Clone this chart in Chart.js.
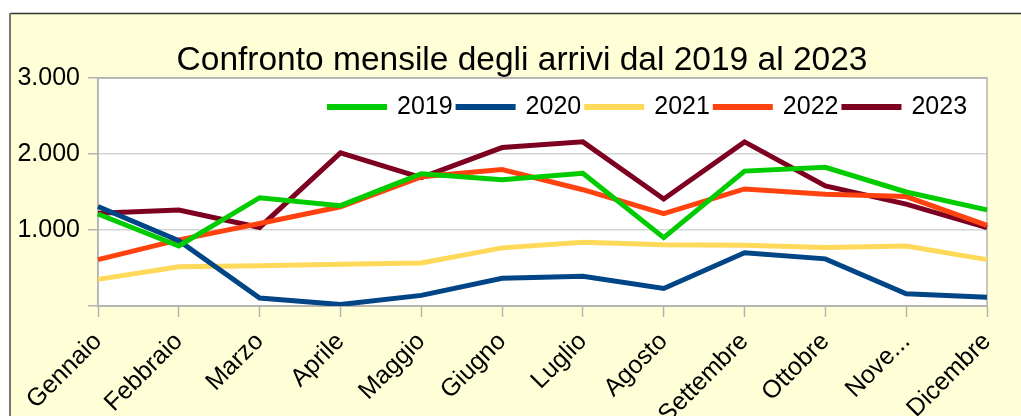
<!DOCTYPE html>
<html>
<head>
<meta charset="utf-8">
<script src="https://cdn.jsdelivr.net/npm/chart.js@4/dist/chart.umd.min.js"></script>
<style>
    body { margin: 0; background: #ffffff; }
    #wrap { position: relative; width: 1021px; height: 416px; }
</style>
</head>
<body>
<div id="wrap"><canvas id="arriviChart" width="1021" height="416"></canvas></div>
<script>
// Data
const months = ['Gennaio', 'Febbraio', 'Marzo', 'Aprile', 'Maggio', 'Giugno', 'Luglio', 'Agosto', 'Settembre', 'Ottobre', 'Nove...', 'Dicembre'];
const years = ['2019', '2020', '2021', '2022', '2023'];
const arrivi2019 = [1210, 790, 1425, 1320, 1740, 1660, 1745, 900, 1775, 1825, 1500, 1265];
const arrivi2020 = [1310, 860, 105, 20, 140, 365, 390, 230, 700, 620, 160, 115];
const arrivi2021 = [350, 515, 530, 550, 565, 765, 840, 805, 800, 770, 790, 610];
const arrivi2022 = [610, 870, 1085, 1305, 1700, 1795, 1530, 1215, 1540, 1470, 1440, 1060];
const arrivi2023 = [1220, 1262, 1034, 2015, 1690, 2085, 2160, 1408, 2160, 1580, 1340, 1030];
const seriesColors = ['#00cc00', '#004586', '#ffd95a', '#ff420e', '#7e0021'];
const yTicks = [0, 1000, 2000, 3000];

Chart.defaults.font.family = "'Liberation Sans', Arial, sans-serif";
Chart.defaults.color = '#000000';

function formatThousands(v) {
    return String(v).replace(/\B(?=(\d{3})+(?!\d))/g, '.');
}

// Yellow page with frame, white plot area
const chartBackground = {
    id: 'chartBackground',
    beforeDraw(chart) {
        const ctx = chart.ctx;
        const area = chart.chartArea;
        ctx.save();
        ctx.fillStyle = '#ffffff';
        ctx.fillRect(0, 0, chart.width, chart.height);
        ctx.fillStyle = '#ffffd7';
        ctx.fillRect(10, 13, chart.width - 10, chart.height - 13);
        ctx.strokeStyle = '#333333';
        ctx.lineWidth = 1.5;
        ctx.beginPath();
        ctx.moveTo(10, 13.5);
        ctx.lineTo(chart.width, 13.5);
        ctx.stroke();
        ctx.strokeStyle = '#777777';
        ctx.lineWidth = 2;
        ctx.beginPath();
        ctx.moveTo(10, 13);
        ctx.lineTo(10, chart.height);
        ctx.stroke();
        ctx.fillStyle = '#ffffff';
        ctx.fillRect(area.left, area.top, area.right - area.left, area.bottom - area.top);
        ctx.restore();
    },
    beforeDatasetsDraw(chart) {
        const ctx = chart.ctx;
        const area = chart.chartArea;
        ctx.save();
        ctx.strokeStyle = '#b3b3b3';
        ctx.lineWidth = 1.5;
        ctx.strokeRect(area.left, area.top, area.right - area.left, area.bottom - area.top);
        ctx.restore();
    }
};

// Legend inside the plot area (top right), title centred on the whole frame
const boxPlacement = {
    id: 'boxPlacement',
    afterLayout(chart) {
        const lg = chart.legend;
        lg.left = 324;
        lg.right = 1000;
        lg.top = 89;
        lg.bottom = 126;
        lg.width = lg.right - lg.left;
        lg.height = lg.bottom - lg.top;

        const tt = chart.titleBlock;
        if (tt) {
            tt.left = 23;
            tt.right = 1021;
            tt.width = tt.right - tt.left;
        }
    }
};

const allSeries = [arrivi2019, arrivi2020, arrivi2021, arrivi2022, arrivi2023];
const datasets = years.map((year, i) => ({
    label: year,
    data: allSeries[i],
    borderColor: seriesColors[i],
    backgroundColor: seriesColors[i],
    borderWidth: 5,
    pointRadius: 0,
    pointHoverRadius: 0,
    tension: 0,
    fill: false
}));

new Chart(document.getElementById('arriviChart').getContext('2d'), {
    type: 'line',
    data: {
        labels: months,
        datasets: datasets
    },
    options: {
        responsive: false,
        animation: false,
        layout: {
            padding: { left: 0, right: 34, top: 0, bottom: 0 }
        },
        plugins: {
            title: {
                display: true,
                text: 'Confronto mensile degli arrivi dal 2019 al 2023',
                color: '#000000',
                font: { size: 33.5, weight: 'normal', lineHeight: 1 },
                padding: { top: 44.5, bottom: 0 }
            },
            legend: {
                position: 'top',
                align: 'start',
                maxHeight: 0.001,
                labels: {
                    boxWidth: 55,
                    boxHeight: 1,
                    padding: 5.5,
                    color: '#000000',
                    font: { size: 25 }
                }
            },
            tooltip: { enabled: false }
        },
        scales: {
            x: {
                offset: false,
                afterFit: function(scale) { scale.height = 110; },
                grid: {
                    drawOnChartArea: false,
                    drawTicks: true,
                    tickLength: 11,
                    tickColor: '#b3b3b3',
                    tickWidth: 1.5
                },
                border: { color: '#b3b3b3', width: 1.5 },
                ticks: {
                    autoSkip: false,
                    minRotation: 45,
                    maxRotation: 45,
                    padding: 10,
                    color: '#000000',
                    font: { size: 25 }
                }
            },
            y: {
                min: yTicks[0],
                max: yTicks[yTicks.length - 1],
                afterFit: function(scale) { scale.width = 98; },
                afterBuildTicks: function(scale) {
                    scale.ticks = yTicks.map(v => ({ value: v }));
                },
                grid: {
                    color: function(ctx) {
                        const v = ctx.tick ? ctx.tick.value : 0;
                        return (v === 0 || v === 3000) ? '#b3b3b3' : '#d4d4d4';
                    },
                    lineWidth: 1.5,
                    tickLength: 10,
                    tickColor: '#b3b3b3',
                    tickWidth: 1.5
                },
                border: { color: '#b3b3b3', width: 1.5 },
                ticks: {
                    padding: 8,
                    color: '#000000',
                    font: { size: 25 },
                    callback: function(value) {
                        return value === 0 ? '' : formatThousands(value);
                    }
                }
            }
        }
    },
    plugins: [chartBackground, boxPlacement]
});
</script>
</body>
</html>
